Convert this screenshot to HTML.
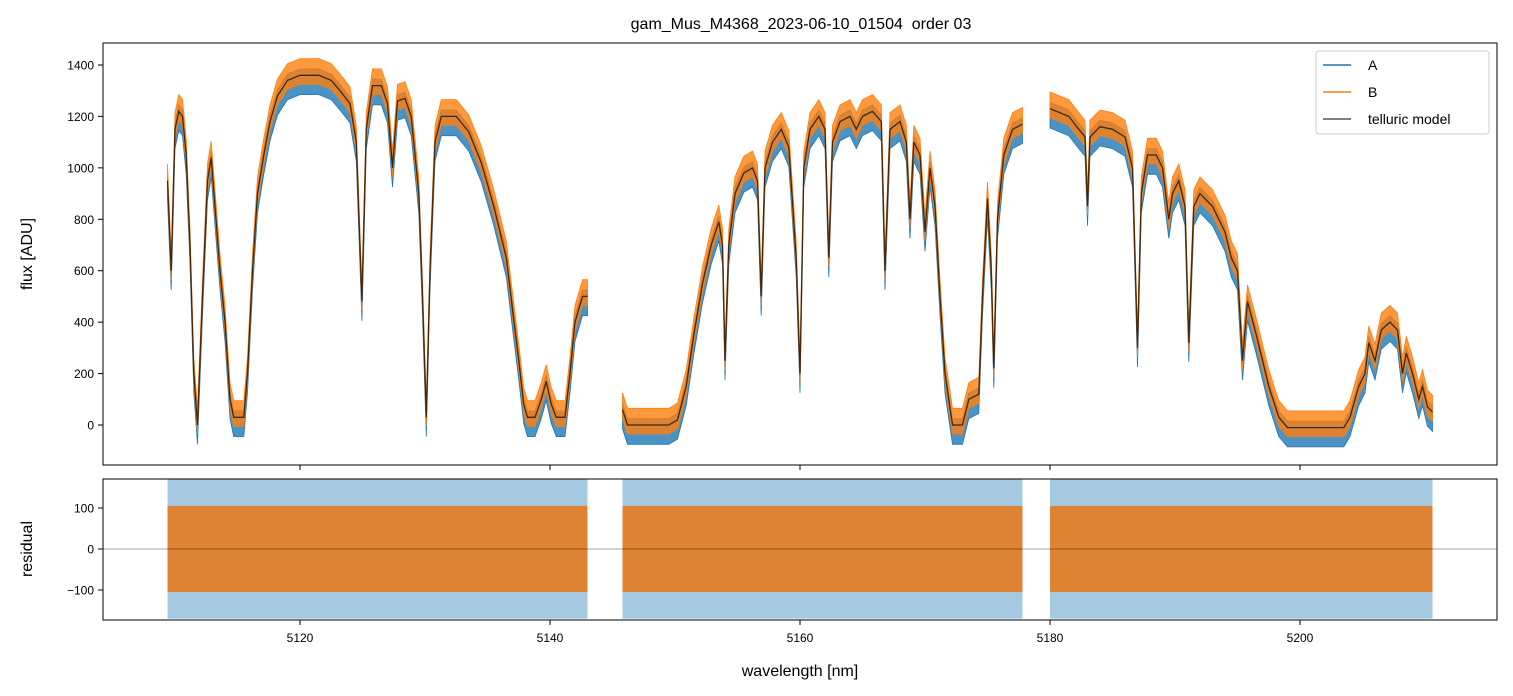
<!DOCTYPE html>
<html><head><meta charset="utf-8">
<style>
html,body{margin:0;padding:0;background:#fff;}
svg{display:block;font-family:"Liberation Sans","DejaVu Sans",sans-serif;}
</style></head>
<body>
<svg id="chart" width="1513" height="696" viewBox="0 0 1513 696" xmlns="http://www.w3.org/2000/svg">
<rect width="1513" height="696" fill="#fff"/>
<text x="801" y="29" font-size="16" text-anchor="middle" style="white-space:pre">gam_Mus_M4368_2023-06-10_01504  order 03</text>
<defs>
<clipPath id="clipTop"><rect x="103" y="43" width="1394" height="422"/></clipPath>
<clipPath id="clipBot"><rect x="103" y="479" width="1394" height="141"/></clipPath>
</defs>
<g id="topMarks" clip-path="url(#clipTop)"></g>
<g id="botMarks" clip-path="url(#clipBot)"></g>
<rect x="103" y="43" width="1394" height="422" fill="none" stroke="#000" stroke-width="1"/>
<rect x="103" y="479" width="1394" height="141" fill="none" stroke="#000" stroke-width="1"/>
<g id="axes"></g>
<text transform="translate(32,254) rotate(-90)" font-size="16" text-anchor="middle">flux [ADU]</text>
<text transform="translate(32,549) rotate(-90)" font-size="16" text-anchor="middle">residual</text>
<text x="800" y="676" font-size="16" text-anchor="middle">wavelength [nm]</text>
<g>
<rect x="1316" y="51" width="173" height="83" rx="3" fill="#fff" fill-opacity="0.9" stroke="#ccc"/>
<line x1="1323" y1="65" x2="1351" y2="65" stroke="#1f77b4" stroke-width="1.5"/>
<text x="1368" y="70" font-size="14">A</text>
<line x1="1323" y1="92" x2="1351" y2="92" stroke="#ff7f0e" stroke-width="1.5"/>
<text x="1368" y="97" font-size="14">B</text>
<line x1="1323" y1="119" x2="1351" y2="119" stroke="#555" stroke-width="1.5"/>
<text x="1368" y="124" font-size="14">telluric model</text>
</g>
</svg>
<script>
// ---- data ----
const seg1Wave = [5109.4,5109.7,5110.0,5110.3,5110.6,5110.9,5111.2,5111.5,5111.8,5112.2,5112.6,5112.9,5113.2,5113.6,5114.0,5114.4,5114.7,5115.5,5115.8,5116.2,5116.6,5117.1,5117.6,5118.2,5119.0,5120.0,5121.5,5122.5,5123.2,5124.0,5124.5,5124.95,5125.3,5125.8,5126.5,5127.0,5127.4,5127.8,5128.4,5128.9,5129.5,5129.8,5130.1,5130.4,5130.8,5131.3,5132.5,5133.5,5134.5,5135.5,5136.5,5137.0,5137.5,5137.9,5138.2,5138.8,5139.3,5139.7,5140.1,5140.5,5141.2,5141.6,5142.0,5142.6,5143.0];
const seg1Flux = [950,600,1150,1220,1200,1050,700,200,0,500,950,1040,850,600,400,100,30,30,200,600,900,1050,1180,1280,1340,1360,1360,1340,1300,1250,1100,480,1150,1320,1320,1250,1000,1260,1270,1200,900,500,30,600,1100,1200,1200,1140,1020,850,650,450,250,80,30,30,100,170,80,30,30,200,400,500,500];
const seg2Wave = [5145.8,5146.2,5149.5,5150.2,5150.9,5151.5,5152.2,5152.9,5153.5,5153.8,5154.0,5154.3,5154.8,5155.5,5156.2,5156.6,5156.9,5157.2,5157.8,5158.5,5159.1,5159.7,5160.0,5160.3,5160.8,5161.5,5162.0,5162.3,5162.6,5163.2,5164.0,5164.5,5165.0,5165.8,5166.5,5166.8,5167.2,5168.0,5168.5,5168.8,5169.1,5169.6,5170.0,5170.4,5170.8,5171.2,5171.6,5172.2,5173.0,5173.5,5174.3,5174.6,5175.0,5175.3,5175.5,5175.8,5176.3,5177.0,5177.8];
const seg2Flux = [60,0,0,20,150,350,550,700,790,700,250,700,900,980,1000,950,500,1000,1100,1150,1080,650,200,1000,1150,1200,1150,650,1100,1180,1200,1150,1200,1220,1180,600,1150,1180,1100,800,1100,1050,750,1000,850,500,200,0,0,100,120,500,880,600,220,800,1050,1150,1170];
const seg3Wave = [5180.0,5181.5,5182.3,5182.8,5183.0,5183.2,5184.0,5185.0,5186.0,5186.6,5187.0,5187.3,5187.8,5188.5,5189.0,5189.5,5189.8,5190.3,5190.8,5191.1,5191.5,5192.0,5193.0,5194.0,5194.5,5195.0,5195.4,5195.8,5196.5,5197.5,5198.3,5199.0,5203.5,5204.0,5204.7,5205.2,5205.5,5206.0,5206.5,5207.2,5207.8,5208.2,5208.5,5209.0,5209.5,5209.8,5210.2,5210.6];
const seg3Flux = [1230,1200,1150,1120,850,1120,1160,1150,1120,1000,300,900,1050,1050,1000,800,900,950,850,320,850,900,850,750,650,600,250,480,350,150,30,-10,-10,30,150,200,320,250,370,400,370,200,280,200,100,150,70,50];
const residualSpreadA = [170,170,170];
const residualSpreadB = [105,105,105];
const xTicks = [5120,5140,5160,5180,5200];
const yTicks = [0,200,400,600,800,1000,1200,1400];
const rTicks = [-100,0,100];

// ---- scales ----
const X = w => 300 + (w - 5120) * 12.5;
const Y = f => 425 - f * (360/1400);
const R = r => 549 - r * 0.41;
const NS = "http://www.w3.org/2000/svg";
const topG = document.getElementById('topMarks');
const botG = document.getElementById('botMarks');
const axesG = document.getElementById('axes');
function mk(tag, attrs, parent){const e=document.createElementNS(NS,tag);for(const k in attrs)e.setAttribute(k,attrs[k]);parent.appendChild(e);return e;}

const segs = [[seg1Wave,seg1Flux],[seg2Wave,seg2Flux],[seg3Wave,seg3Flux]];
function band(wv, fl, lo, hi){
  let pts=[];
  for(let i=0;i<wv.length;i++) pts.push(X(wv[i]).toFixed(1)+','+Y(fl[i]+hi).toFixed(1));
  for(let i=wv.length-1;i>=0;i--) pts.push(X(wv[i]).toFixed(1)+','+Y(fl[i]+lo).toFixed(1));
  return pts.join(' ');
}
segs.forEach((s,i)=>{
  const a = mk('polygon',{points:band(s[0],s[1],-75,25),fill:'#1f77b4','fill-opacity':0.8,stroke:'#1f77b4','stroke-width':0.8},topG);
  
  
  const b = mk('polygon',{points:band(s[0],s[1],-35,65),fill:'#ff7f0e','fill-opacity':0.8,stroke:'#ff7f0e','stroke-width':0.8},topG);
  
  
});
segs.forEach((s,i)=>{
  const pts = s[0].map((w,j)=>X(w).toFixed(1)+','+Y(s[1][j]).toFixed(1)).join(' ');
  const l = mk('polyline',{points:pts,fill:'none',stroke:'#000','stroke-opacity':0.7,'stroke-width':1.3},topG);
  
  
});
segs.forEach((s,i)=>{
  const x0 = X(s[0][0]), x1 = X(s[0][s[0].length-1]);
  const ra = mk('rect',{x:x0,y:R(residualSpreadA[i]),width:x1-x0,height:R(-residualSpreadA[i])-R(residualSpreadA[i]),fill:'#1f77b4','fill-opacity':0.4},botG);
  
  
  const rb = mk('rect',{x:x0,y:R(residualSpreadB[i]),width:x1-x0,height:R(-residualSpreadB[i])-R(residualSpreadB[i]),fill:'#e0802a','fill-opacity':0.95},botG);
  
  
});
const zl = mk('line',{x1:103,x2:1497,y1:R(0),y2:R(0),stroke:'#000','stroke-width':0.6,'stroke-opacity':0.7},botG);



xTicks.forEach(t=>{
  mk('line',{x1:X(t),x2:X(t),y1:465,y2:470,stroke:'#000'},axesG);
  mk('line',{x1:X(t),x2:X(t),y1:620,y2:625,stroke:'#000'},axesG);
  const tx = mk('text',{x:X(t),y:642,'font-size':12,'text-anchor':'middle'},axesG);
  tx.textContent=t;
  
  
});
yTicks.forEach(t=>{
  mk('line',{x1:98,x2:103,y1:Y(t),y2:Y(t),stroke:'#000'},axesG);
  const tx = mk('text',{x:94,y:Y(t)+4.5,'font-size':12,'text-anchor':'end'},axesG);
  tx.textContent=t;
  
  
});
rTicks.forEach(t=>{
  mk('line',{x1:98,x2:103,y1:R(t),y2:R(t),stroke:'#000'},axesG);
  const tx = mk('text',{x:94,y:R(t)+4.5,'font-size':12,'text-anchor':'end'},axesG);
  tx.textContent=(t<0?'\u2212'+(-t):t);
  
  
});
</script>
</body></html>
